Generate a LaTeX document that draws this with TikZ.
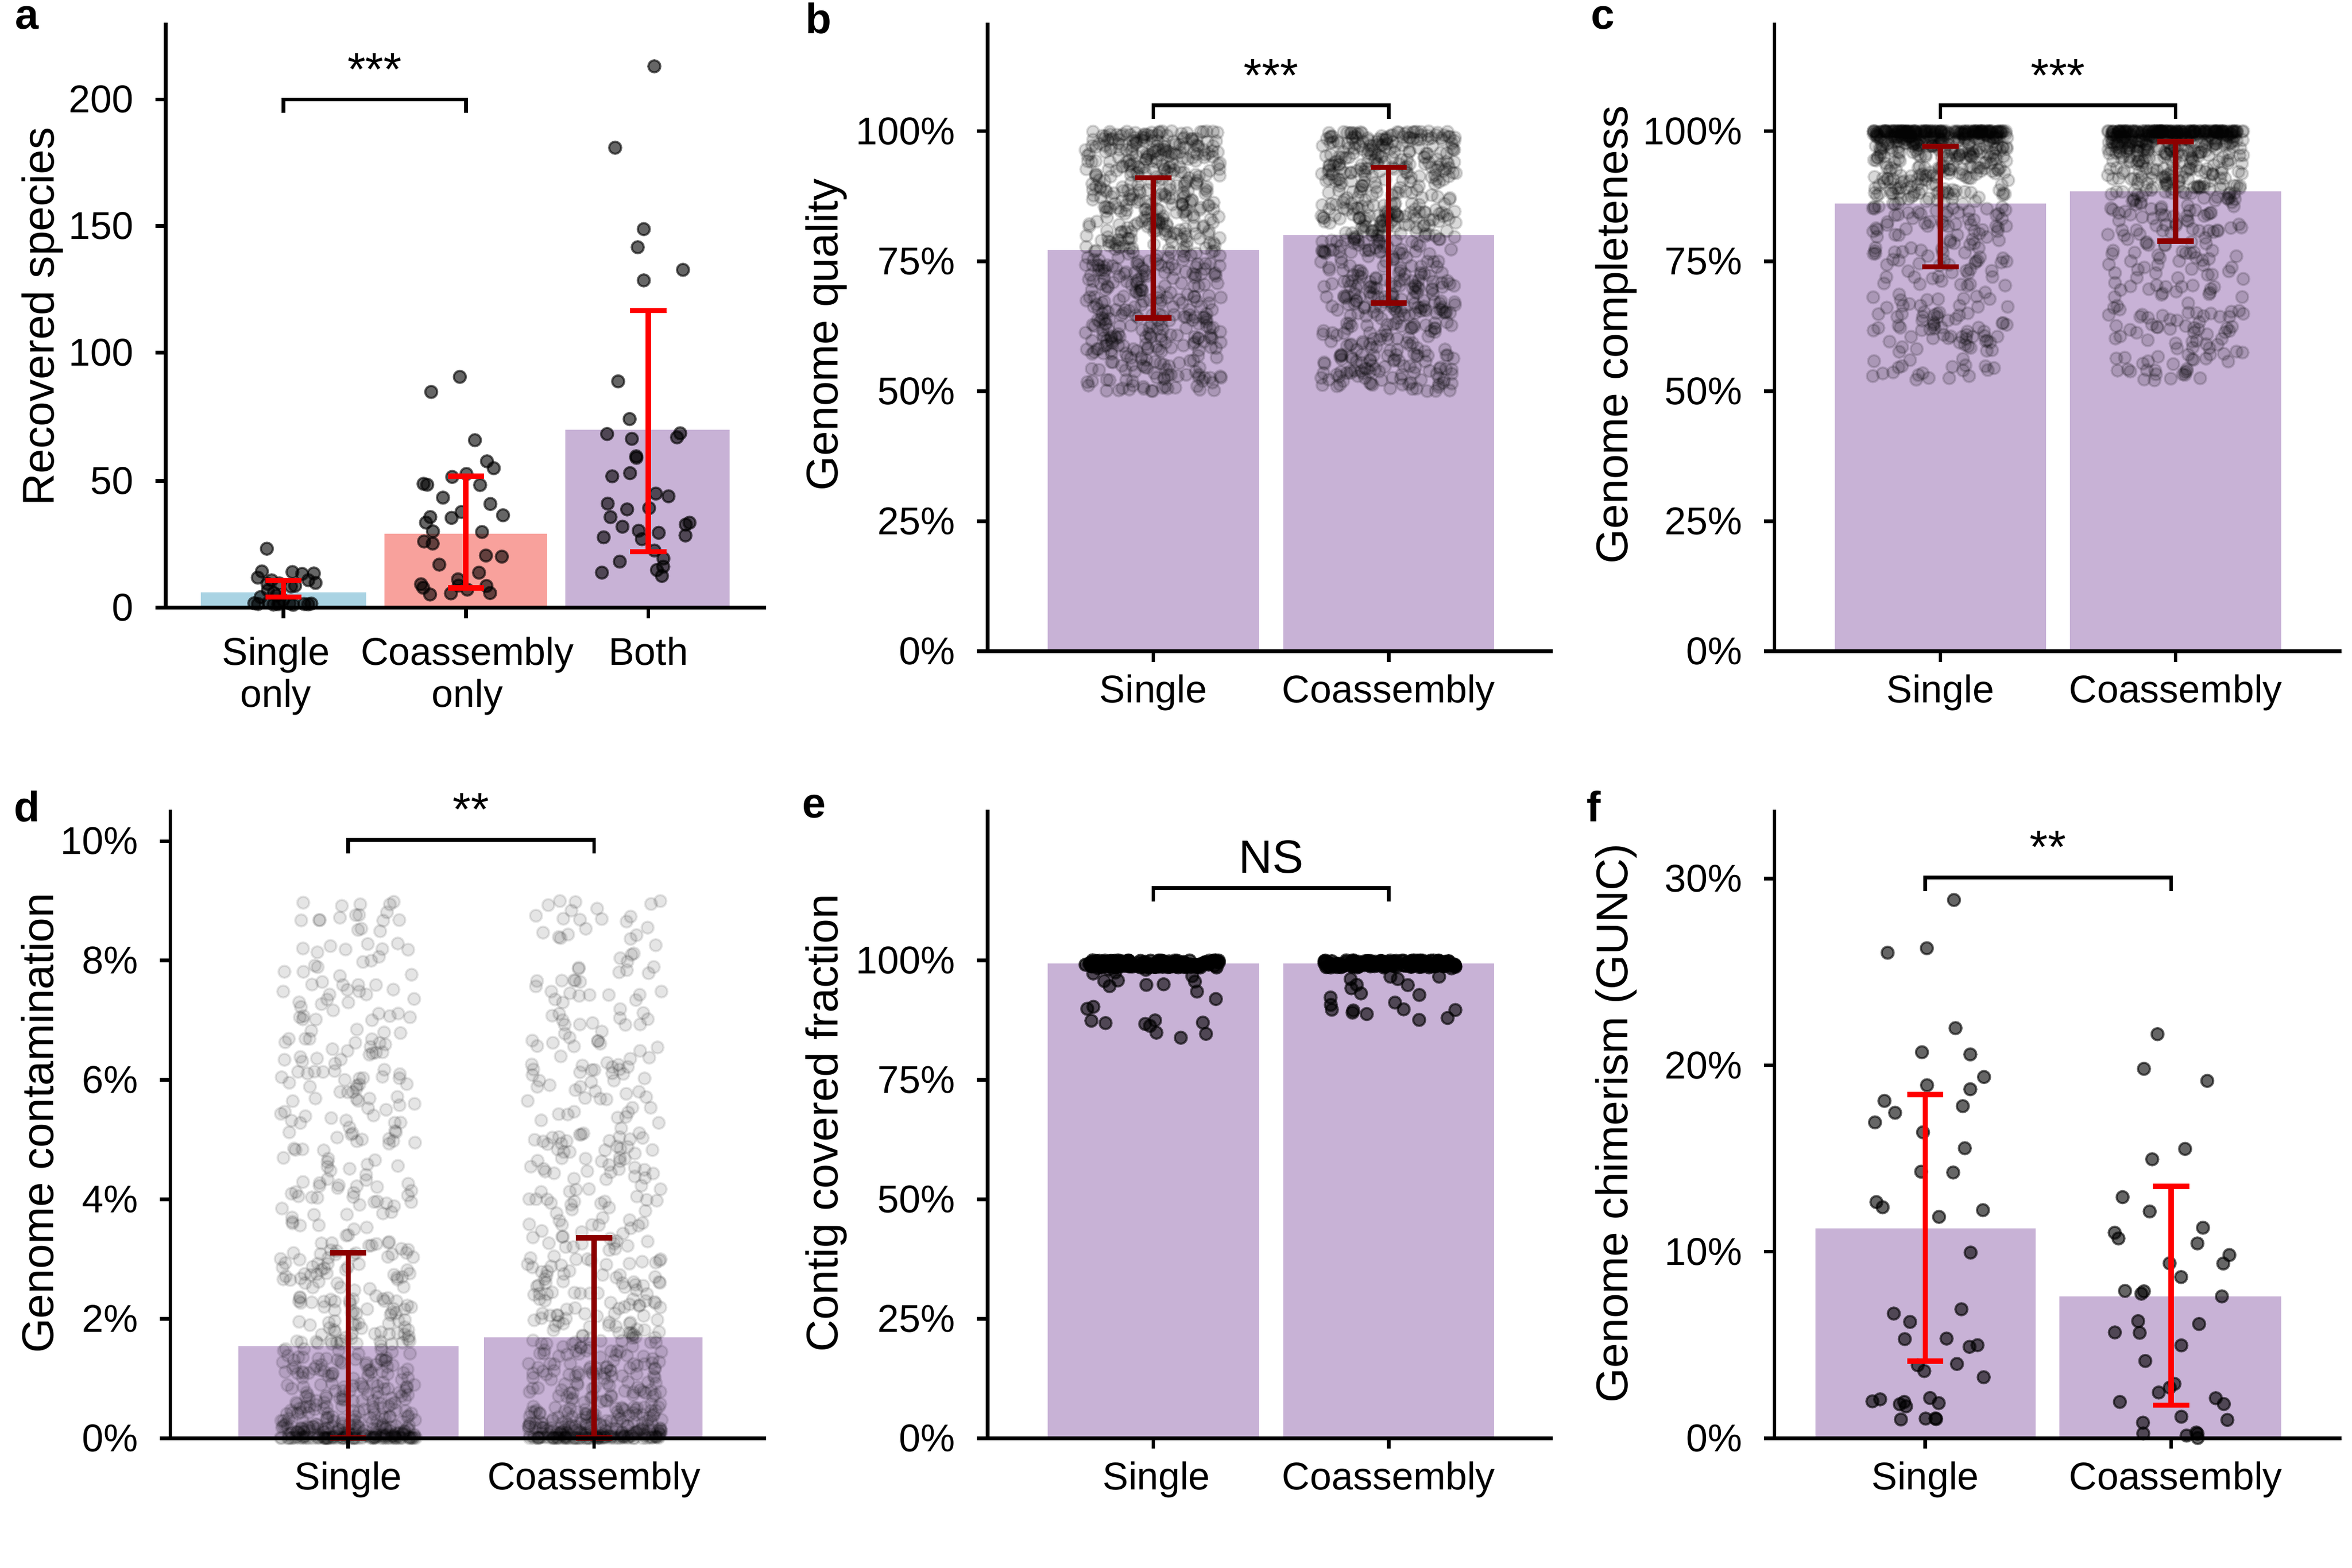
\documentclass[tikz,border=0pt]{standalone}
\usepackage{fontspec}
\setmainfont{Liberation Sans}
\begin{document}
\definecolor{pur}{HTML}{C8B2D6}
\definecolor{lb}{HTML}{A9D3E3}
\definecolor{sal}{HTML}{F8A19C}
\definecolor{dred}{HTML}{8B0000}
\begin{tikzpicture}[x=0.01cm,y=-0.01cm,
  tick/.style={font=\fontsize{7.3}{8}\selectfont,anchor=east},
  xlab/.style={font=\fontsize{7.3}{8}\selectfont,anchor=north,align=center},
  ttl/.style={font=\fontsize{8.4}{9}\selectfont,rotate=90},
  let/.style={font=\fontsize{8}{9}\selectfont\bfseries},
  ax/.style={line width=0.7pt},
  br/.style={line width=0.7pt},
  eb/.style={line width=1pt}]
\useasboundingbox (0,0) rectangle (1560,1040);
\pgfmathsetseed{7}
% helpers
\newcommand\pts[7]{\foreach \i in {1,...,#1}{\pgfmathsetmacro\px{#2+#3*(2*rnd-1)}\pgfmathsetmacro\r{rnd}\pgfmathsetmacro\py{#4-#5*(#6)}\filldraw[fill=black,fill opacity=#7,draw opacity=#7] (\px,\py) circle (0.04cm);}}
\newcommand\pdot[2]{\filldraw[fill=black,fill opacity=0.6,draw opacity=0.6] (#1,#2) circle (0.04cm);}
\newcommand\eb[4]{\draw[eb,#4] (#1,#2)--(#1,#3) (#1-12,#2)--(#1+12,#2) (#1-12,#3)--(#1+12,#3);}
\newcommand\brk[4]{\draw[br] (#1,#3+9)--(#1,#3)--(#2,#3)--(#2,#3+9); \node[font=\fontsize{8.8}{9}\selectfont,anchor=south] at ({(#1+#2)/2},#3+3) {#4};}
\newcommand\yt[3]{\draw[ax] (#1,#2)--(#1-7,#2); \node[tick] at (#1-9,#2) {#3};}
\newcommand\xt[2]{\draw[ax] (#1,#2)--(#1,#2+7);}
% ---------- a
\node[let] at (18,12) {a};
\fill[lb] (133,403) rectangle (243,393);
\fill[sal] (255,403) rectangle (363,354);
\fill[pur] (375,403) rectangle (484,285);
\pts{28}{188}{22}{403}{1.685}{1+14*\r^2}{0.6}
\pdot{177}{364}
\pts{30}{309}{30}{403}{1.685}{5+50*\r^1.5}{0.6}
\pdot{286}{260}\pdot{305}{250}\pdot{315}{292}\pdot{323}{306}
\pts{30}{430}{32}{403}{1.685}{12+65*\r^1.2}{0.6}
\pdot{434}{44}\pdot{408}{98}\pdot{427}{152}\pdot{423}{164}\pdot{453}{179}\pdot{427}{186}\pdot{410}{253}
\eb{188}{385}{396}{red}
\eb{309}{316}{390}{red}
\eb{430}{206}{366}{red}
\draw[ax] (110,15)--(110,403)--(508,403);
\foreach \v/\y in {0/403,50/319,100/234,150/150,200/66} {\yt{110}{\y}{\v}}
\foreach \x in {188,309,430} {\xt{\x}{403}}
\node[xlab] at (183,410) {Single\\only};
\node[xlab] at (310,410) {Coassembly\\only};
\node[xlab] at (430,410) {Both};
\brk{188}{309}{66}{***}
\node[ttl] at (28,210) {Recovered species};
% ---------- b
\node[let] at (543,12) {b};
\fill[pur] (695,432) rectangle (835,166);
\fill[pur] (851,432) rectangle (991,156);
\pts{650}{765}{45}{432}{3.45}{100-50*\r^1.3}{0.15}
\pts{650}{921}{45}{432}{3.45}{100-50*\r^1.3}{0.15}
\eb{765}{211}{118}{dred}
\eb{921}{201}{111}{dred}
\draw[ax] (655,15)--(655,432)--(1030,432);
\foreach \v in {0,25,50,75,100} {\yt{655}{432-3.45*\v}{\v\%}}
\foreach \x in {765,921} {\xt{\x}{432}}
\node[xlab] at (765,435) {Single};
\node[xlab] at (921,435) {Coassembly};
\brk{765}{921}{70}{***}
\node[ttl] at (548,222) {Genome quality};
% ---------- c
\node[let] at (1063,12) {c};
\fill[pur] (1217,432) rectangle (1357,135);
\fill[pur] (1373,432) rectangle (1513,127);
\pts{650}{1287}{45}{432}{3.45}{100-48*\r^3}{0.15}
\pts{650}{1443}{45}{432}{3.45}{100-48*\r^3.5}{0.15}
\eb{1287}{177}{97}{dred}
\eb{1443}{160}{94}{dred}
\draw[ax] (1177,15)--(1177,432)--(1553,432);
\foreach \v in {0,25,50,75,100} {\yt{1177}{432-3.45*\v}{\v\%}}
\foreach \x in {1287,1443} {\xt{\x}{432}}
\node[xlab] at (1287,435) {Single};
\node[xlab] at (1443,435) {Coassembly};
\brk{1287}{1443}{70}{***}
\node[ttl] at (1072,222) {Genome completeness};
% ---------- d
\node[let] at (18,535) {d};
\fill[pur] (158,954) rectangle (304,893);
\fill[pur] (321,954) rectangle (466,887);
\pts{650}{231}{45}{954}{39.6}{9*\r^2.8}{0.1}
\pts{650}{394}{45}{954}{39.6}{9*\r^2.5}{0.1}
\eb{231}{954}{831}{dred}
\eb{394}{954}{821}{dred}
\draw[ax] (113,537)--(113,954)--(508,954);
\foreach \v in {0,2,4,6,8,10} {\yt{113}{954-39.6*\v}{\v\%}}
\foreach \x in {231,394} {\xt{\x}{954}}
\node[xlab] at (231,957) {Single};
\node[xlab] at (394,957) {Coassembly};
\brk{231}{394}{557}{**}
\node[ttl] at (25,745) {Genome contamination};
% ---------- e
\node[let] at (540,535) {e};
\fill[pur] (695,954) rectangle (835,639);
\fill[pur] (851,954) rectangle (991,639);
\pts{150}{765}{45}{954}{3.17}{100-1.5*\r}{0.7}
\pts{35}{765}{45}{954}{3.17}{100-17*\r^2}{0.6}
\pts{150}{921}{45}{954}{3.17}{100-1.5*\r}{0.7}
\pts{35}{921}{45}{954}{3.17}{100-14*\r^2}{0.6}
\draw[ax] (655,537)--(655,954)--(1030,954);
\foreach \v in {0,25,50,75,100} {\yt{655}{954-3.17*\v}{\v\%}}
\foreach \x in {765,921} {\xt{\x}{954}}
\node[xlab] at (767,957) {Single};
\node[xlab] at (921,957) {Coassembly};
\brk{765}{921}{589}{NS}
\node[ttl] at (548,745) {Contig covered fraction};
% ---------- f
\node[let] at (1057,535) {f};
\fill[pur] (1204,954) rectangle (1350,815);
\fill[pur] (1366,954) rectangle (1513,860);
\pts{40}{1277}{40}{954}{12.37}{1+20*\r^1.6}{0.6}
\pdot{1296}{597}\pdot{1252}{632}\pdot{1278}{629}\pdot{1297}{682}
\pts{36}{1440}{40}{954}{12.37}{0+17*\r^1.5}{0.6}
\pdot{1431}{686}\pdot{1464}{717}\pdot{1422}{709}
\eb{1277}{903}{726}{red}
\eb{1440}{932}{787}{red}
\draw[ax] (1177,537)--(1177,954)--(1553,954);
\foreach \v in {0,10,20,30} {\yt{1177}{954-12.37*\v}{\v\%}}
\foreach \x in {1277,1440} {\xt{\x}{954}}
\node[xlab] at (1277,957) {Single};
\node[xlab] at (1443,957) {Coassembly};
\brk{1277}{1440}{582}{**}
\node[ttl] at (1072,745) {Genome chimerism (GUNC)};
\end{tikzpicture}
\end{document}
